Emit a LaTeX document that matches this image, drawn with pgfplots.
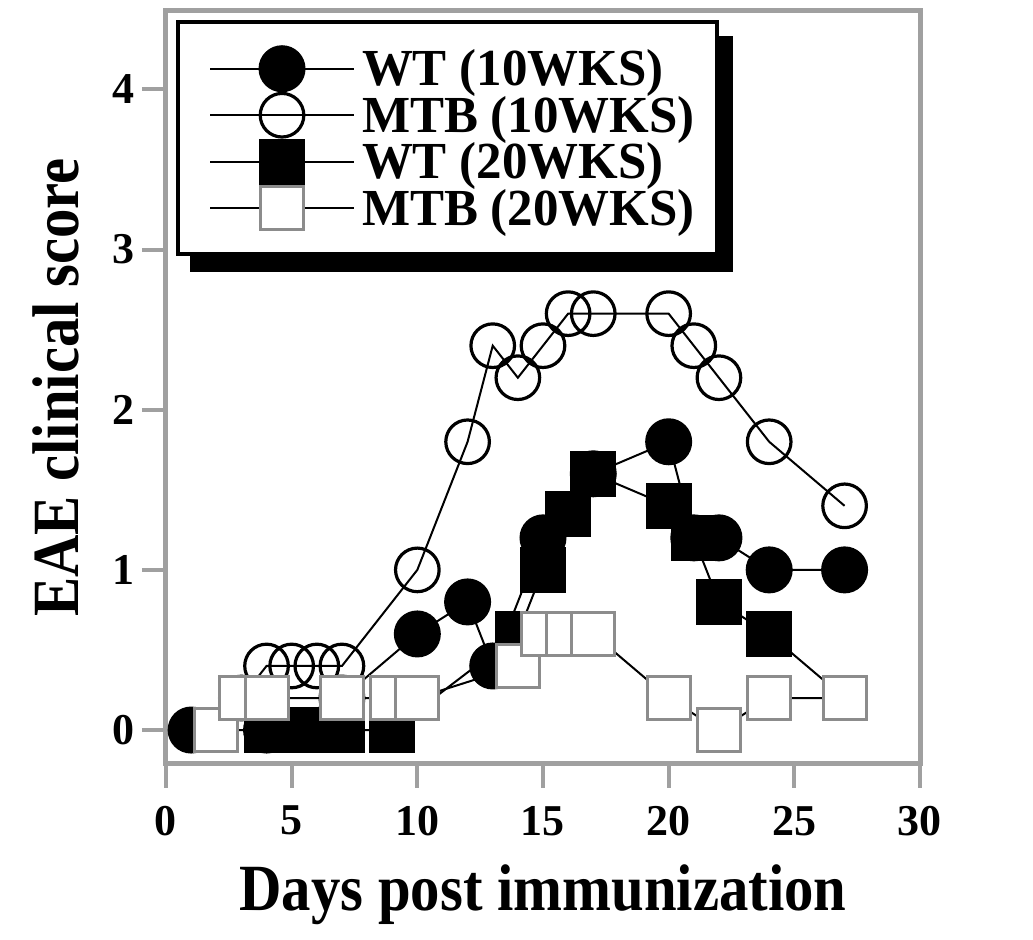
\documentclass[border=0pt]{standalone}
\usepackage{fontspec}
\setmainfont{Liberation Serif}[FakeStretch=0.89]
\newfontfamily\legfont{Liberation Serif}[FakeStretch=0.98]
\newfontfamily\tickfont{Liberation Serif}
\usepackage{pgfplots}
\pgfplotsset{compat=1.18}
\usetikzlibrary{backgrounds}
\definecolor{axgray}{HTML}{A0A0A0}
\definecolor{sqgray}{HTML}{8C8C8C}

\begin{document}
\begin{tikzpicture}
\begin{axis}[
    scale only axis,
    width=377pt, height=376.5pt,
    xmin=0, xmax=30, ymin=-0.212, ymax=4.49,
    xtick={0,5,...,30}, ytick={0,1,2,3,4},
    xtick pos=left, ytick pos=left,
    tick align=outside, major tick length=12pt,
    axis line style={axgray, line width=2.5pt},
    tick style={axgray, line width=2pt},
    /pgf/number format/assume math mode=true,
    tick label style={font=\fontsize{22}{22}\tickfont\bfseries},
    xticklabel style={yshift=-5.5pt},
    xlabel={Days post immunization},
    ylabel={EAE clinical score},
    every axis x label/.style={at={(axis description cs:0.5,-0.1952)}, anchor=base,
        font=\fontsize{33}{33}\selectfont\bfseries},
    every axis y label/.style={at={(axis description cs:-0.1167,0.5)}, rotate=90, anchor=base,
        font=\fontsize{33}{33}\selectfont\bfseries},
    clip=false,
    legend style={
        name=leg,
        at={(rel axis cs:0.0133,0.9874)}, anchor=north west,
        draw=black, line width=2pt, fill=white,
        inner xsep=11pt, inner ysep=11.5pt,
        row sep=0pt, column sep=4pt,
        font=\fontsize{26}{26}\legfont\bfseries,
        nodes={inner sep=0pt, text height=20.225pt, text depth=3.025pt},
    },
    legend cell align=left,
    legend image code/.code={
        \path[draw=none, fill=none] (-5pt,-4pt) rectangle (72pt,4pt);
        \draw[overlay, fill=none, mark repeat=2, mark phase=2, #1]
            plot coordinates {(0pt,0pt) (36pt,0pt) (72pt,0pt)};
    },
]

% WT (10WKS)
\addplot[black, line width=1pt, mark=*, mark size=11pt,
    mark options={solid, fill=black, draw=black, line width=1.5pt}]
coordinates {
    (1,0) (4,0) (7,0.2) (10,0.6) (12,0.8) (13,0.4) (15,1.2) (17,1.6)
    (20,1.8) (21,1.2) (22,1.2) (24,1.0) (27,1.0)
};
\addlegendentry{WT (10WKS)}

% MTB (10WKS)
\addplot[black, line width=1pt, mark=o, mark size=10.9pt,
    mark options={solid, draw=black, line width=1.6pt}]
coordinates {
    (3,0.2) (4,0.4) (5,0.4) (6,0.4) (7,0.4) (10,1.0) (12,1.8) (13,2.4)
    (14,2.2) (15,2.4) (16,2.6) (17,2.6) (20,2.6) (21,2.4) (22,2.2)
    (24,1.8) (27,1.4)
};
\addlegendentry{MTB (10WKS)}

% WT (20WKS)
\addplot[black, line width=1pt, mark=square*, mark size=10.75pt,
    mark options={solid, fill=black, draw=black, line width=1.5pt}]
coordinates {
    (4,0) (5,0) (6,0) (7,0) (9,0) (14,0.6) (15,1.0) (16,1.35) (17,1.6)
    (20,1.4) (21,1.2) (22,0.8) (24,0.6) (27,0.2)
};
\addlegendentry{WT (20WKS)}

% MTB (20WKS)
\addplot[black, line width=1pt, mark=square*, mark size=10.75pt,
    mark options={solid, fill=white, draw=sqgray, line width=1.5pt}]
coordinates {
    (2,0) (3,0.2) (4,0.2) (7,0.2) (9,0.2) (10,0.2) (14,0.4) (15,0.6)
    (16,0.6) (17,0.6) (20,0.2) (22,0) (24,0.2) (27,0.2)
};
\addlegendentry{MTB (20WKS)}

\end{axis}
% shadow behind the legend box
\begin{pgfonlayer}{background}
    \fill[black] ([xshift=7pt,yshift=-8pt]leg.south west)
        rectangle ([xshift=7pt,yshift=-8pt]leg.north east);
\end{pgfonlayer}
\pgfresetboundingbox
\path[use as bounding box]
    ([xshift=-83pt,yshift=-88pt]current axis.south west)
    rectangle ([xshift=56.5pt,yshift=5.5pt]current axis.north east);
\end{tikzpicture}
\end{document}
